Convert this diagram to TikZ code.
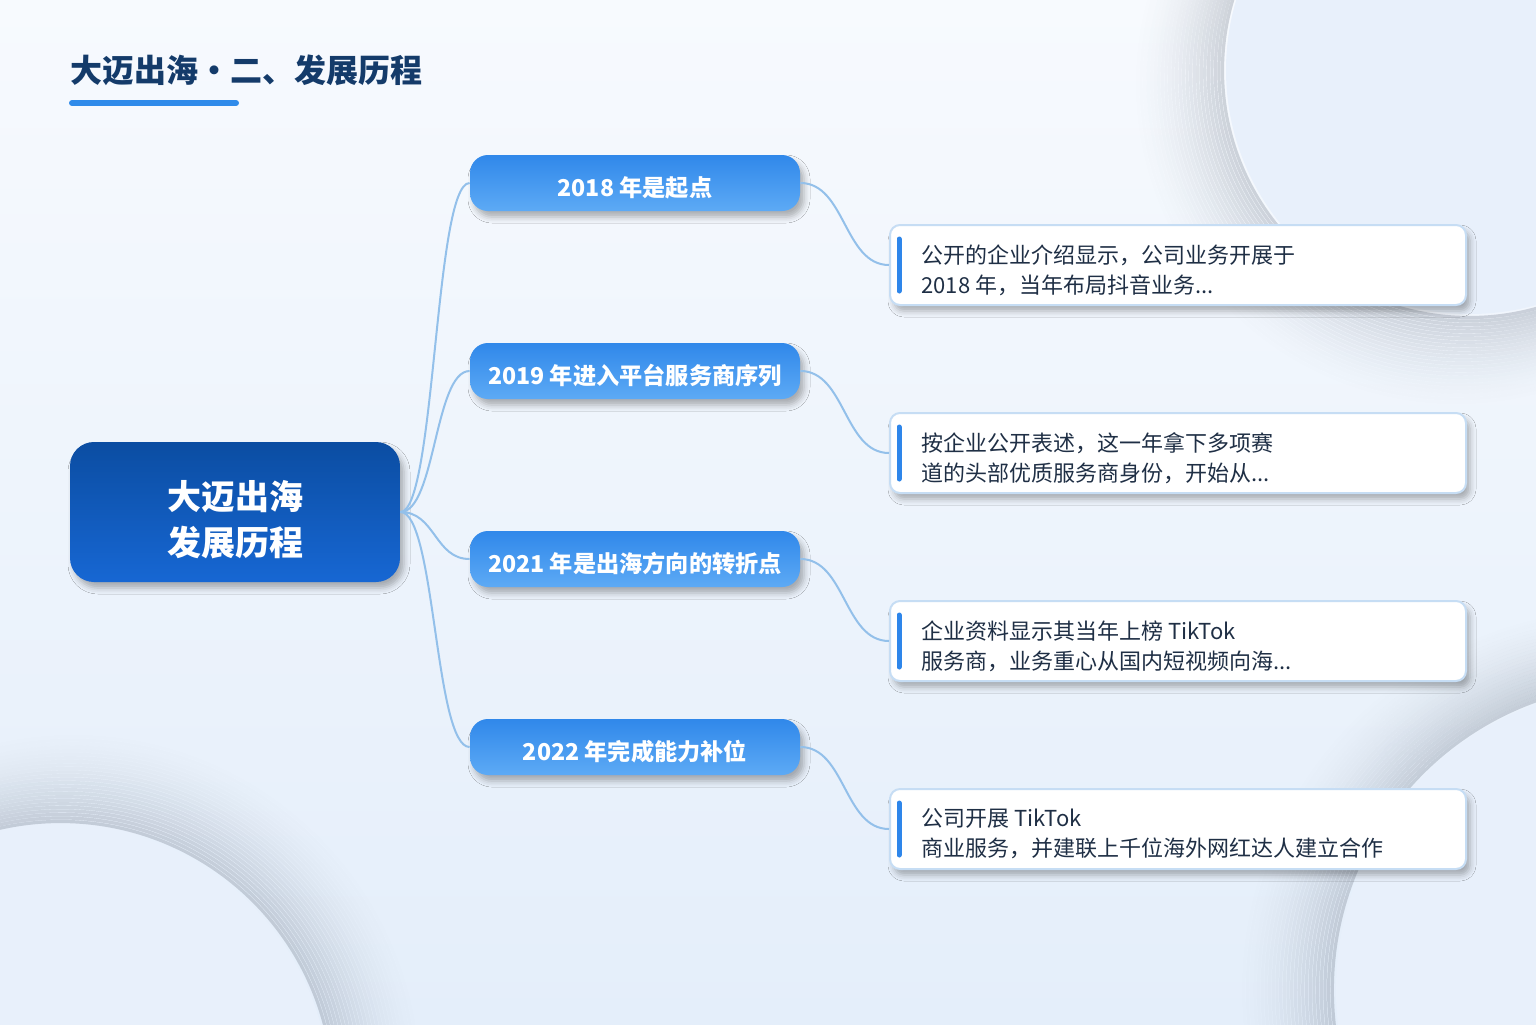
\documentclass[tikz,border=0pt]{standalone}
\usepackage{fontspec}
\setmainfont{Noto Sans CJK SC}
\usetikzlibrary{positioning,shadows.blur}

\definecolor{titleblue}{HTML}{143B6A}
\definecolor{barblue}{HTML}{2F8BEA}
\definecolor{hubtop}{HTML}{0B4DA2}
\definecolor{hubbot}{HTML}{1767D3}
\definecolor{yeartop}{HTML}{3088EA}
\definecolor{yearbot}{HTML}{5DAAF5}
\definecolor{linkblue}{HTML}{93C0EA}
\definecolor{boxline}{HTML}{C6DDF4}
\definecolor{accent}{HTML}{2E86EA}
\definecolor{textdark}{HTML}{1F2F45}
\definecolor{bgtop}{HTML}{F7FAFE}
\definecolor{bgbot}{HTML}{E4EEFA}
\definecolor{bgring}{HTML}{E8F0FB}
\definecolor{ringgray}{HTML}{5A6474}

\newcommand\etcdots{...}

\tikzset{
  softshadow/.style={blur shadow={shadow xshift=2pt,shadow yshift=-3pt,shadow blur radius=3pt,shadow opacity=30}},
  hub/.style={rounded corners=12pt,minimum width=165pt,minimum height=70pt,
    top color=hubtop,bottom color=hubbot,softshadow},
  hubtext/.style={text=white,align=center,inner sep=0pt,
    font=\bfseries\fontsize{17}{23}\selectfont},
  yearbox/.style={rounded corners=9pt,minimum width=165pt,minimum height=28pt,
    top color=yeartop,bottom color=yearbot,softshadow},
  yeartext/.style={text=white,inner sep=0pt,font=\bfseries\fontsize{11.6}{14}\selectfont},
  descbox/.style={rounded corners=5pt,minimum width=288pt,minimum height=40pt,
    fill=white,draw=boxline,line width=1pt,softshadow},
  desctext/.style={anchor=west,align=left,inner sep=0pt,text=textdark,
    font=\fontsize{11}{15}\selectfont},
  link/.style={linkblue,line width=1pt},
  accentbar/.style={accent,line width=2.5pt,line cap=round},
  titlebar/.style={barblue,line width=3pt,line cap=round},
}

\begin{document}
\begin{tikzpicture}[x=0.5pt,y=-0.5pt]
  \useasboundingbox (0,0) rectangle (1536,1024);
  \fill[top color=bgtop,bottom color=bgbot] (0,0) rectangle (1536,1024);

  % soft rings in the background
  \begin{scope}
    \clip (0,0) rectangle (1536,1024);
    \foreach \cx/\cy/\r/\dx/\dy in {1470/70/244/-14/14, 60/1095/270/14/-14, 1640/990/304/-18/0}
    {
      \foreach \k in {1,...,26}
      {
        \pgfmathsetmacro\op{0.27*(1-\k/27)^1.6}
        \draw[ringgray,line width=1.6pt,opacity=\op]
          (\cx+\dx*\k/26,\cy+\dy*\k/26) circle[radius=\r*0.5pt+\k*1.5pt];
      }
      \fill[bgring] (\cx,\cy) circle[radius=\r*0.5pt];
    }
  \end{scope}

  \node[anchor=west,inner sep=0pt,text=titleblue,font=\bfseries\fontsize{16}{18}\selectfont]
    (title) at (70,70) {大迈出海・二、发展历程};
  \draw[titlebar] (72,103) -- (236,103);

  \node[hub] (hub) at (235,512) {};
  \node[hubtext] (hubt) at ([yshift=-4pt]hub.center) {大迈出海\\发展历程};

  \foreach \i/\yc/\ytext/\dl/\dm in {
      1/183/{2018 年是起点}/{公开的企业介绍显示，公司业务开展于}/{2018 年，当年布局抖音业务\etcdots},
      2/371/{2019 年进入平台服务商序列}/{按企业公开表述，这一年拿下多项赛}/{道的头部优质服务商身份，开始从\etcdots},
      3/559/{2021 年是出海方向的转折点}/{企业资料显示其当年上榜 TikTok}/{服务商，业务重心从国内短视频向海\etcdots},
      4/747/{2022 年完成能力补位}/{公司开展 TikTok}/{商业服务，并建联上千位海外网红达人建立合作}}
  {
    \node[yearbox] (y\i) at (635,\yc) {};
    \node[yeartext] (yt\i) at ([yshift=-2.5pt]y\i.center) {\ytext};
    \node[descbox] (d\i) at (1178,\yc+82) {};
    \draw[accentbar] ([xshift=5pt,yshift=13pt]d\i.west) -- ([xshift=5pt,yshift=-13pt]d\i.west);
    \node[desctext] (t\i) at ([xshift=16pt,yshift=-2.5pt]d\i.west) {\dl\\\dm};
    \draw[link] (hub.east) .. controls +(35,0) and +(-35,0) .. (y\i.west);
    \draw[link] (y\i.east) .. controls +(45,0) and +(-45,0) .. (d\i.west);
  }
\end{tikzpicture}
\end{document}
